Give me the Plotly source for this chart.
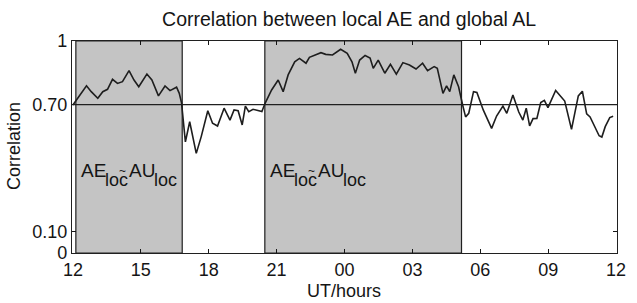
import plotly.graph_objects as go

# UT hours (continuous, 12 -> 36 meaning 12 UT next day)
hours = [12.00, 12.16, 12.60, 12.81, 13.10, 13.32, 13.53, 13.75, 13.97, 14.19,
         14.48, 14.70, 14.91, 15.27, 15.49, 15.78, 16.07, 16.29, 16.58, 16.70,
         16.80, 16.97, 17.16, 17.45, 17.67, 17.96, 18.17, 18.39, 18.68, 18.94,
         19.12, 19.30, 19.48, 19.62, 19.77, 19.96, 20.20, 20.35, 20.49, 20.78,
         21.07, 21.29, 21.51, 21.80, 22.01, 22.30, 22.45, 22.67, 22.96, 23.17,
         23.47, 23.83, 24.12, 24.33, 24.48, 24.67, 24.91, 25.13, 25.27, 25.49,
         25.78, 26.03, 26.29, 26.58, 26.87, 27.16, 27.45, 27.67, 27.96, 28.10,
         28.35, 28.51, 28.65, 28.83, 29.04, 29.22, 29.35, 29.49, 29.70, 29.85,
         30.13, 30.50, 30.72, 31.00, 31.17, 31.44, 31.70, 31.88, 32.03, 32.18,
         32.33, 32.50, 32.67, 32.83, 32.99, 33.33, 33.55, 33.73, 34.03, 34.33,
         34.51, 34.70, 34.85, 35.25, 35.37, 35.52, 35.72, 35.87]
correlation = [0.698, 0.722, 0.789, 0.761, 0.730, 0.761, 0.772, 0.819, 0.800, 0.808,
               0.860, 0.816, 0.784, 0.844, 0.816, 0.741, 0.788, 0.766, 0.782, 0.753,
               0.708, 0.524, 0.619, 0.470, 0.549, 0.671, 0.612, 0.599, 0.683, 0.627,
               0.675, 0.671, 0.604, 0.693, 0.667, 0.678, 0.671, 0.667, 0.706, 0.769,
               0.816, 0.761, 0.840, 0.902, 0.918, 0.895, 0.923, 0.934, 0.945, 0.937,
               0.934, 0.961, 0.942, 0.902, 0.848, 0.910, 0.932, 0.920, 0.871, 0.910,
               0.848, 0.890, 0.844, 0.898, 0.887, 0.868, 0.895, 0.860, 0.879, 0.871,
               0.753, 0.788, 0.761, 0.840, 0.784, 0.698, 0.642, 0.659, 0.761, 0.757,
               0.675, 0.588, 0.646, 0.693, 0.659, 0.745, 0.665, 0.627, 0.683, 0.600,
               0.634, 0.635, 0.710, 0.720, 0.686, 0.767, 0.737, 0.717, 0.583, 0.741,
               0.763, 0.656, 0.642, 0.553, 0.547, 0.596, 0.639, 0.645]

shaded_start = [12.13, 20.48]
shaded_end = [16.83, 29.17]
threshold = 0.70
label_level = 0.39

# label pieces: (text, x offset px from shaded start, y offset px, font size)
label_parts = [("AE", 3, 0, 19), ("loc", 27, -10, 18), ("AU", 51, 0, 19), ("loc", 76, -10, 18)]

x_tick_vals = [12, 15, 18, 21, 24, 27, 30, 33, 36]
x_tick_text = ["12", "15", "18", "21", "00", "03", "06", "09", "12"]
y_tick_vals = [0, 0.10, 0.70, 1]
y_tick_text = ["0", "0.10", "0.70", "1"]

FONT = "Liberation Sans, Arial, Helvetica, sans-serif"
INK = "#151515"

fig = go.Figure()
fig.add_trace(go.Scatter(x=hours, y=correlation, mode="lines",
                         line=dict(color="#1e1e1e", width=1.6), showlegend=False,
                         hoverinfo="skip"))

for s, e in zip(shaded_start, shaded_end):
    fig.add_shape(type="rect", xref="x", yref="paper", x0=s, x1=e, y0=0, y1=1,
                  fillcolor="#c4c4c4", line=dict(color="#202020", width=1.2),
                  layer="below")
    for txt, dx, dy, fs in label_parts:
        fig.add_annotation(x=s, xref="x", xanchor="left", xshift=dx, y=label_level, yref="y",
                           yanchor="middle", yshift=dy, showarrow=False, text=txt,
                           font=dict(family=FONT, size=fs, color=INK))
    fig.add_annotation(x=s, xref="x", xanchor="center", xshift=47, y=label_level, yref="y",
                       yanchor="middle", yshift=-1, showarrow=False, text="~",
                       font=dict(family=FONT, size=12, color=INK))

fig.add_shape(type="line", xref="paper", yref="y", x0=0, x1=1, y0=threshold, y1=threshold,
              line=dict(color="#202020", width=1.2), layer="above")

fig.update_layout(
    width=637, height=303,
    margin=dict(l=72, r=11, t=41, b=50),
    paper_bgcolor="white", plot_bgcolor="white",
    font=dict(family=FONT, size=18, color=INK),
    title=dict(text="Correlation between local AE and global AL", x=0.548, xanchor="center",
               y=1 - 19 / 303, yanchor="middle", yref="container",
               font=dict(family=FONT, size=19.5, color=INK)),
    xaxis=dict(range=[11.96, 36.04], tickvals=x_tick_vals, ticktext=x_tick_text,
               ticks="inside", ticklen=4, tickcolor=INK, showgrid=False, zeroline=False,
               showline=True, linecolor="#202020", linewidth=1.2, mirror="ticks"),
    yaxis=dict(range=[0, 1], tickvals=y_tick_vals, ticktext=y_tick_text,
               ticks="inside", ticklen=4, tickcolor=INK, showgrid=False, zeroline=False,
               showline=True, linecolor="#202020", linewidth=1.2, mirror="ticks"),
    annotations=list(fig.layout.annotations) + [
        dict(text="Correlation", xref="paper", yref="paper", x=(13 - 72) / 554,
             y=(253 - 146) / 212, textangle=-90, showarrow=False,
             xanchor="center", yanchor="middle", font=dict(family=FONT, size=18, color=INK)),
        dict(text="UT/hours", xref="paper", yref="paper", x=(348 - 72) / 554,
             y=(253 - 291) / 212, showarrow=False, xanchor="center", yanchor="middle",
             font=dict(family=FONT, size=18, color=INK)),
    ],
)

fig.write_html("out.html", config={"displayModeBar": False},
               post_script="document.body.style.margin='0';document.body.style.overflow='hidden';")
